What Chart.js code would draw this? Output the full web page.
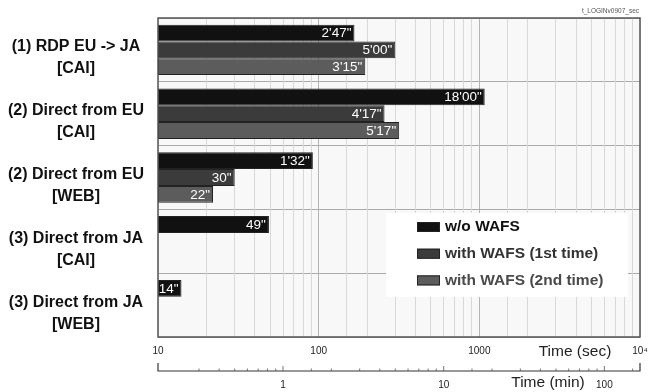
<!DOCTYPE html>
<html lang="en">
<head>
  <meta charset="UTF-8">
  <title>Login time</title>
  <script src="https://cdn.jsdelivr.net/npm/chart.js"></script>
  <style>
    body {
      margin: 0;
      padding: 0;
      background-color: #fff;
    }
    canvas {
      display: block;
    }
  </style>
</head>
<body>
  <canvas id="loginChart" width="648" height="392"></canvas>

  <script>
    // categories (two-line labels)
    var categories = [
      ['(1) RDP EU -> JA', '[CAI]'],
      ['(2) Direct from EU', '[CAI]'],
      ['(2) Direct from EU', '[WEB]'],
      ['(3) Direct from JA', '[CAI]'],
      ['(3) Direct from JA', '[WEB]']
    ];
    var seriesNames = ['w/o WAFS', 'with WAFS (1st time)', 'with WAFS (2nd time)'];
    // times in seconds
    var withoutWafs = [167, 1080, 92, 49, 14];
    var wafsFirst = [300, 257, 30, null, null];
    var wafsSecond = [195, 317, 22, null, null];
    // labelled ticks
    var secTicks = [10, 100, 1000, 10000];
    var secTickText = ['10', '100', '1000', '10\u2074'];
    var minTicks = [1, 10, 100];

    var barColors = ['#111111', '#3b3b3b', '#5c5c5c'];
    var legendText = ['#111111', '#333333', '#4a4a4a'];

    function fmtTime(s) {
      var m = Math.floor(s / 60);
      var r = s % 60;
      if (m === 0) return r + '"';
      return m + "'" + (r < 10 ? '0' : '') + r + '"';
    }

    // keep the plot box fixed: drop the label overflow padding
    function noPad(s) {
      s.paddingTop = 0;
      s.paddingBottom = 0;
      s.paddingLeft = 0;
      s.paddingRight = 0;
    }

    var plotBg = {
      id: 'plotBg',
      beforeDraw: function(chart) {
        var a = chart.chartArea, c = chart.ctx;
        c.save();
        c.fillStyle = '#f8f8f8';
        c.fillRect(a.left, a.top, a.right - a.left, a.bottom - a.top);
        c.restore();
      }
    };

    var extras = {
      id: 'extras',
      afterDatasetsDraw: function(chart) {
        var c = chart.ctx;
        // value labels at the end of each bar
        c.save();
        c.font = '13.5px "Liberation Sans", Arial, sans-serif';
        c.fillStyle = '#ffffff';
        c.textAlign = 'right';
        c.textBaseline = 'middle';
        chart.data.datasets.forEach(function(ds, i) {
          chart.getDatasetMeta(i).data.forEach(function(bar, j) {
            if (ds.data[j] == null) return;
            c.fillText(fmtTime(ds.data[j]), bar.x - 3, bar.y + 0.5);
          });
        });
        c.restore();
      },
      afterDraw: function(chart) {
        var c = chart.ctx, a = chart.chartArea;
        c.save();
        // frame
        c.strokeStyle = '#555';
        c.lineWidth = 1.5;
        c.strokeRect(a.left, a.top, a.right - a.left, a.bottom - a.top);

        // legend box
        c.fillStyle = '#ffffff';
        c.fillRect(386, 213, 242, 84);
        c.font = 'bold 15.5px "Liberation Sans", Arial, sans-serif';
        c.textAlign = 'left';
        c.textBaseline = 'middle';
        seriesNames.forEach(function(name, i) {
          var y = 227 + i * 26.7;
          c.fillStyle = barColors[i];
          c.fillRect(417, y - 5, 23, 10);
          c.strokeStyle = '#222';
          c.lineWidth = 1;
          c.strokeRect(417.5, y - 4.5, 22, 9);
          c.fillStyle = legendText[i];
          c.fillText(name, 445, y);
        });

        // axis titles
        c.fillStyle = '#222';
        c.font = '15.5px "Liberation Sans", Arial, sans-serif';
        c.textAlign = 'center';
        c.fillText('Time (sec)', 575, 352);
        c.fillText('Time (min)', 548, 383);

        // minutes axis line with upward ticks
        var x2 = chart.scales.x2;
        var ly = 371;
        c.strokeStyle = '#333';
        c.lineWidth = 1.2;
        c.beginPath();
        c.moveTo(x2.left, ly - 8);
        c.lineTo(x2.left, ly);
        c.lineTo(x2.right, ly);
        c.lineTo(x2.right, ly - 8);
        c.stroke();
        c.lineWidth = 0.8;
        c.strokeStyle = '#555';
        x2.ticks.forEach(function(t) {
          var px = x2.getPixelForValue(t.value);
          if (px <= x2.left + 1 || px >= x2.right - 1) return;
          var len = minTicks.indexOf(t.value) >= 0 ? 5 : 2.5;
          c.beginPath();
          c.moveTo(px, ly);
          c.lineTo(px, ly - len);
          c.stroke();
        });

        // file tag
        c.fillStyle = '#555';
        c.font = '6.5px "Liberation Sans", Arial, sans-serif';
        c.textAlign = 'right';
        c.fillText('t_LOGINv0907_sec', 639, 11);
        c.restore();
      }
    };

    var ctx = document.getElementById('loginChart').getContext('2d');
    var chart = new Chart(ctx, {
      type: 'bar',
      data: {
        labels: categories,
        datasets: [withoutWafs, wafsFirst, wafsSecond].map(function(d, i) {
          return {
            label: seriesNames[i],
            data: d,
            backgroundColor: barColors[i],
            borderColor: '#222',
            borderWidth: 1,
            borderSkipped: false,
            categoryPercentage: 0.79,
            barPercentage: 1.0
          };
        })
      },
      options: {
        indexAxis: 'y',
        responsive: false,
        animation: false,
        layout: { padding: { top: 18, right: 8, left: 0, bottom: 0 } },
        plugins: {
          legend: { display: false },
          tooltip: { enabled: false }
        },
        scales: {
          y: {
            type: 'category',
            grid: { color: '#aaaaaa', lineWidth: 1, drawTicks: false, offset: true },
            border: { display: false },
            ticks: {
              autoSkip: false,
              crossAlign: 'center',
              padding: 14,
              labelOffset: 8,
              color: '#111',
              font: { family: '"Liberation Sans", Arial, sans-serif', size: 16, weight: 'bold', lineHeight: 1.375 }
            },
            afterFit: function(s) { s.width = 158; noPad(s); }
          },
          x: {
            type: 'logarithmic',
            position: 'bottom',
            min: 10,
            max: 10000,
            grid: {
              drawTicks: false,
              color: function(c) {
                return c.tick && (c.tick.value === 100 || c.tick.value === 1000) ? '#b4b4b4' : '#d8d8d8';
              },
              lineWidth: 1
            },
            border: { display: false },
            ticks: {
              autoSkip: false,
              maxRotation: 0,
              padding: 8,
              color: '#222',
              font: { family: '"Liberation Sans", Arial, sans-serif', size: 10 },
              callback: function(v) {
                var k = secTicks.indexOf(v);
                return k >= 0 ? secTickText[k] : '';
              }
            },
            afterFit: function(s) { s.height = 28; noPad(s); }
          },
          x2: {
            type: 'logarithmic',
            position: 'bottom',
            min: 10 / 60,
            max: 10000 / 60,
            grid: { display: false, drawTicks: false },
            border: { display: false },
            ticks: {
              autoSkip: false,
              maxRotation: 0,
              padding: 14,
              color: '#222',
              font: { family: '"Liberation Sans", Arial, sans-serif', size: 10 },
              callback: function(v) {
                return minTicks.indexOf(v) >= 0 ? String(v) : '';
              }
            },
            afterFit: function(s) { s.height = 27; noPad(s); }
          }
        }
      },
      plugins: [plotBg, extras]
    });
  </script>
</body>
</html>
